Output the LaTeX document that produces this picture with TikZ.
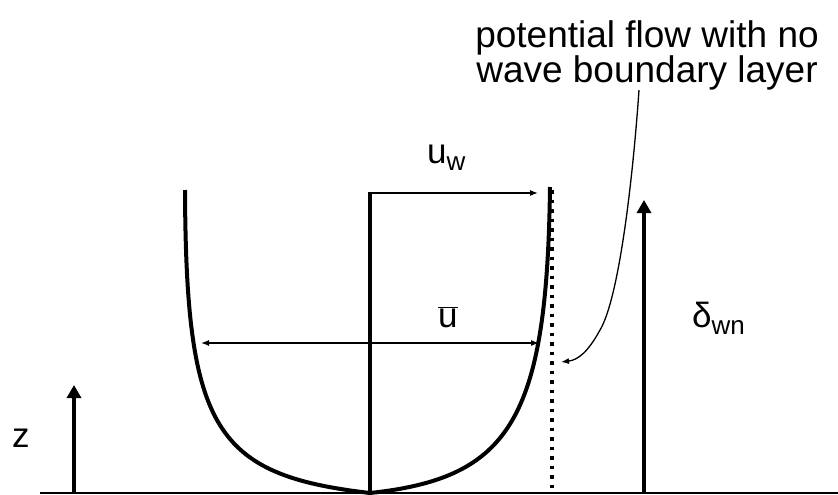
\documentclass[tikz,border=0pt]{standalone}
\usepackage{fontspec}
\setmainfont{Liberation Sans}
\usetikzlibrary{arrows.meta}
\newcommand{\lowsub}[1]{\raisebox{-7pt}{\fontsize{26}{26}\selectfont #1}}
\tikzset{
  profile/.style={line width=4pt, line join=round},
  thinarrow/.style={line width=1.3pt, -{Latex[length=8pt,width=6pt]}},
  botharrow/.style={line width=1.3pt, {Latex[length=8pt,width=6pt]}-{Latex[length=8pt,width=6pt]}},
  thickarrow/.style={line width=4pt, -{Triangle[length=13pt,width=14pt]}},
  potflow/.style={line width=3.5pt, dash pattern=on 3.5pt off 6pt},
  leader/.style={line width=1.3pt, -{Latex[length=8pt,width=6pt]}},
  lbl/.style={inner sep=0pt, font=\fontsize{35}{35}\selectfont},
  note/.style={inner sep=0pt, align=center, font=\fontsize{37}{35}\selectfont},
}

\begin{document}
\begin{tikzpicture}[x=1pt,y=-1pt]
  \useasboundingbox (0,0) rectangle (838,495);
  % bed and axes
  \coordinate (bed0) at (40,493);
  \coordinate (bed1) at (838,493);
  \draw[line width=1.3pt] (bed0) -- (bed1);
  \coordinate (z0) at (74,493);
  \coordinate (z1) at (74,385);
  \draw[thickarrow] (z0) -- (z1);
  \node[lbl, anchor=base west] (zlab) at (12,447) {z};
  \coordinate (d0) at (644,493);
  \coordinate (d1) at (644,200);
  \draw[thickarrow] (d0) -- (d1);
  \node[lbl, anchor=base west] (dlab) at (692,327) {δ\lowsub{wn}};
  % potential flow profile
  \coordinate (pf0) at (552,190);
  \coordinate (pf1) at (552,493);
  \draw[potflow] (pf0) -- (pf1);
  % velocity profile
  \coordinate (c0) at (370,493);
  \coordinate (c1) at (370,193);
  \draw[profile] (185,190) .. controls (186,430) and (215,475) .. (c0)
    .. controls (510,478) and (547,420) .. (550,187);
  \draw[profile] (c0) -- (c1);
  % velocities
  \coordinate (uw0) at (368,193);
  \coordinate (uw1) at (538,193);
  \draw[thinarrow] (uw0) -- (uw1);
  \node[lbl, anchor=base west] (uwlab) at (427,163) {u\lowsub{w}};
  \coordinate (ub0) at (201,343);
  \coordinate (ub1) at (539,343);
  \draw[botharrow] (ub0) -- (ub1);
  \node[lbl, anchor=base west] (ublab) at (438,327) {$\overline{\mbox{u}}$};
  % note with leader
  \node[note, anchor=north] (note) at (647,20) {potential flow with no\\wave boundary layer};
  \coordinate (lead) at (639,90);
  \coordinate (tip) at (561,362);
  \draw[leader] (lead) .. controls (632,190) and (618,300) .. (600,330)
    .. controls (588,352) and (578,360) .. (tip);
\end{tikzpicture}
\end{document}
